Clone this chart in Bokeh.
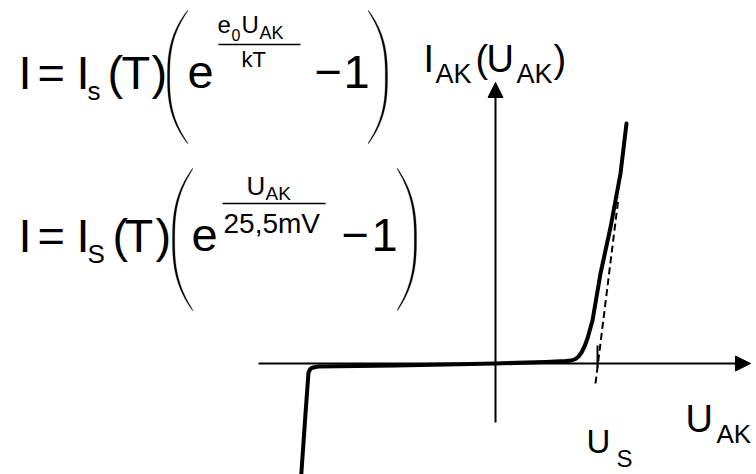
import numpy as np
from bokeh.plotting import figure
from bokeh.models import ColumnDataSource, Range1d, Arrow, NormalHead
from bokeh.core.properties import value
from bokeh.embed import file_html
from bokeh.resources import INLINE

# Diode characteristic I_AK(U_AK), arbitrary units (1 unit = 100 px on screen)
u_ak = [-1.945, -1.90, -1.87, -1.855, -1.84, -1.80, -1.77, -1.00, 0.00, 0.50, 0.70,
        0.76, 0.80, 0.83, 0.86, 0.89, 0.92, 0.97, 1.05, 1.15, 1.25, 1.31]
i_ak = [-1.15, -0.50, -0.09, -0.06, -0.045, -0.035, -0.03, -0.02, 0.00, 0.015, 0.025,
        0.03, 0.045, 0.07, 0.11, 0.17, 0.25, 0.43, 0.90, 1.36, 1.90, 2.40]

# Asymptote of the forward branch, crossing the U axis at the threshold voltage U_S
u_tangent = [1.00, 1.23]
i_tangent = [-0.20, 1.66]
u_s = 1.02

W, H = 756, 474
X0, Y0, SCALE = 495, 363, 100.0


def X(px):
    return (px - X0) / SCALE


def Y(py):
    return (Y0 - py) / SCALE


p = figure(width=W, height=H, x_range=Range1d(X(0), X(W)), y_range=Range1d(Y(H), Y(0)),
           output_backend="svg", toolbar_location=None,
           x_axis_location=None, y_axis_location=None, min_border=0)
p.grid.visible = False
p.outline_line_color = None
p.background_fill_color = "white"
p.border_fill_color = "white"

# coordinate axes with arrow heads
p.add_layout(Arrow(end=NormalHead(size=15, fill_color="black", line_color="black", line_width=1),
                   x_start=X(258), y_start=0, x_end=X(750), y_end=0,
                   line_width=2, line_color="black"))
p.add_layout(Arrow(end=NormalHead(size=15, fill_color="black", line_color="black", line_width=1),
                   x_start=0, y_start=Y(422), x_end=0, y_end=Y(82),
                   line_width=2, line_color="black"))

# characteristic curve, asymptote and threshold mark
p.line(u_ak, i_ak, line_width=4, line_color="black", line_join="round", line_cap="round")
p.line(u_tangent, i_tangent, line_width=2, line_color="black", line_dash="7 4")
p.segment(x0=[u_s], y0=[Y(367)], x1=[u_s], y1=[Y(345)], line_width=2, line_color="black")


# large parentheses of the formulas, drawn as thin crescents
def paren(x_edge, x_end, y_top, y_bot, thick=1.8):
    s = np.linspace(-1, 1, 80)
    ys = y_top + (s + 1) / 2 * (y_bot - y_top)
    outer = x_edge + (x_end - x_edge) * np.abs(s) ** 2.6
    d = np.sign(x_end - x_edge)
    inner = outer + d * (0.4 + thick * np.sqrt(np.clip(1 - s ** 2, 0, 1)))
    xs = np.concatenate([outer, inner[::-1]])
    yy = np.concatenate([ys, ys[::-1]])
    return [X(v) for v in xs], [Y(v) for v in yy]


for args in [(167, 187, 10, 143), (387, 368, 10, 143), (172, 192, 168, 310), (416, 397, 168, 310)]:
    px, py = paren(*args)
    p.patch(px, py, fill_color="black", line_color="black", line_width=0.3)

# fraction bars in the exponents
p.segment(x0=[X(218), X(222)], y0=[Y(44), Y(203)], x1=[X(300), X(325)], y1=[Y(44), Y(203)],
          line_width=1.5, line_color="black")

# text pieces: (left x, baseline y, text, size) in screen pixels
pieces = [
    (18, 89, "I", 47), (37, 89, "=", 47), (76, 89, "I", 47), (87, 100, "s", 26),
    (107, 89, "(", 47), (121, 89, "T", 47), (151, 89, ")", 47), (187, 89, "e", 47),
    (217, 33, "e", 24), (231, 40, "0", 16), (241, 33, "U", 24), (259, 39, "AK", 18),
    (241, 67, "kT", 22), (314, 89, "\u2212", 47), (343, 89, "1", 47),
    (18, 252, "I", 47), (37, 252, "=", 47), (76, 252, "I", 47), (87, 263, "S", 26),
    (112, 252, "(", 47), (124, 252, "T", 47), (155, 252, ")", 47), (191, 252, "e", 47),
    (246, 195, "U", 26), (265, 200, "AK", 19), (223, 233, "25,5mV", 28),
    (341, 252, "\u2212", 47), (371, 252, "1", 47),
    (423, 73, "I", 38), (435, 83, "AK", 27), (475, 73, "(", 38), (486, 73, "U", 38),
    (516, 83, "AK", 27), (553, 73, ")", 38),
    (586, 453, "U", 33), (616, 467, "S", 24),
    (685, 433, "U", 38), (716, 443, "AK", 26),
]
# the renderer places the anchor a little above the alphabetic baseline
LIFT = 0.37
src = ColumnDataSource(dict(
    x=[X(a) for a, _, _, _ in pieces],
    y=[Y(b - LIFT * s) for _, b, _, s in pieces],
    text=[t for _, _, t, _ in pieces],
    size=["%dpx" % s for _, _, _, s in pieces],
))
p.text(x="x", y="y", text="text", source=src, text_font=value("Liberation Sans"),
       text_font_size="size", text_align="left", text_baseline="alphabetic",
       text_color="black")

open("out.html", "w").write(file_html(p, INLINE))
